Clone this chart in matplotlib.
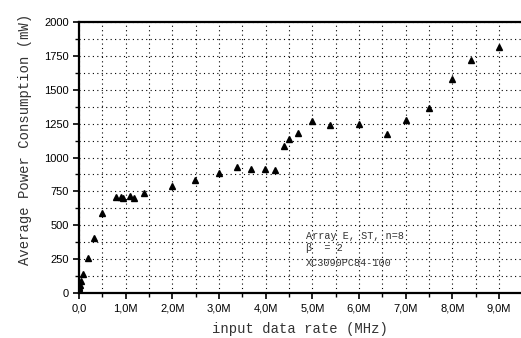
import matplotlib
matplotlib.use("Agg")
import matplotlib.pyplot as plt
from matplotlib.ticker import MultipleLocator, FuncFormatter

rate_mhz = [0.0, 0.015, 0.04, 0.09, 0.19, 0.33, 0.50, 0.79, 0.90, 0.94, 1.09, 1.18, 1.39,
            1.99, 2.49, 2.99, 3.39, 3.69, 3.99, 4.19, 4.40, 4.49, 4.69, 4.99, 5.38, 5.99,
            6.59, 7.00, 7.49, 8.00, 8.40, 8.99]
power_mw = [35, 59, 89, 140, 258, 404, 593, 711, 711, 699, 716, 701, 736,
            792, 834, 888, 928, 913, 913, 910, 1087, 1137, 1178, 1267, 1237, 1245,
            1176, 1274, 1365, 1582, 1722, 1813]
extra_low = [0.0, 0.01]
extra_low_p = [45, 60]

annotation_lines = ["Array E, ST, n=8", "\u03b2  = 2", "XC3090PC84-100"]
annotation_y = [420, 331, 221]

fig = plt.figure(figsize=(5.21, 3.38), dpi=100)
ax = fig.add_axes([79/521, 1-293/338, (521-79)/521, (293-22)/338])

ax.plot(rate_mhz, power_mw, linestyle="none", marker="^", color="black", markersize=5)
ax.plot(extra_low, extra_low_p, linestyle="none", marker="^", color="black", markersize=5)

ax.set_xlim(0, 9.47)
ax.set_ylim(0, 2000)
ax.xaxis.set_major_locator(MultipleLocator(1.0))
ax.xaxis.set_minor_locator(MultipleLocator(0.5))
ax.yaxis.set_major_locator(MultipleLocator(250))
ax.yaxis.set_minor_locator(MultipleLocator(125))

def xfmt(v, pos):
    if abs(v) < 1e-9:
        return "0,0"
    return ("%.1fM" % v).replace(".", ",")
ax.xaxis.set_major_formatter(FuncFormatter(xfmt))
ax.yaxis.set_major_formatter(FuncFormatter(lambda v, p: "%d" % v))

ax.grid(True, which="both", color="black", linestyle=(0, (1, 3)), linewidth=0.8)
for s in ["left", "bottom", "top"]:
    ax.spines[s].set_linewidth(1.6)
ax.spines["right"].set_visible(False)
ax.tick_params(which="major", direction="out", length=4, width=1.2, labelsize=8)
ax.tick_params(which="minor", direction="out", length=3, width=1.0)
for lab in ax.get_xticklabels() + ax.get_yticklabels():
    lab.set_fontfamily("Liberation Sans")

ax.set_xlabel("input data rate (MHz)", fontfamily="Liberation Mono", fontsize=10, color="#333333", labelpad=6)
ax.set_ylabel("Average Power Consumption (mW)", fontfamily="Liberation Mono", fontsize=10, color="#333333")
ax.yaxis.set_label_coords(-0.107, 0.568)

for t, yv in zip(annotation_lines, annotation_y):
    ax.text(4.86, yv, t, fontfamily="Liberation Mono", fontsize=7.3, color="#333333", va="center")

fig.savefig("out.png", dpi=100)
